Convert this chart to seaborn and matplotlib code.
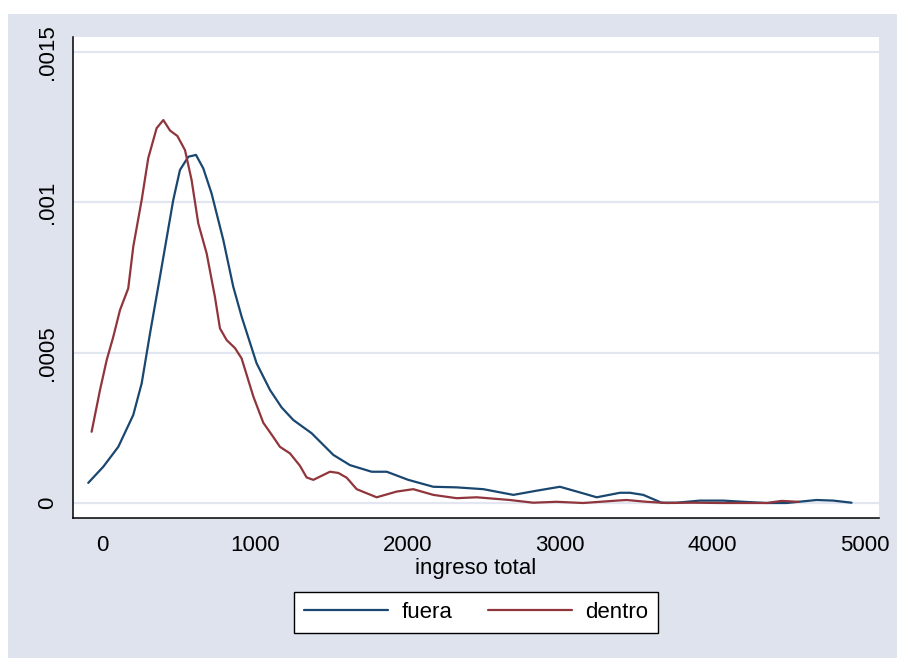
import numpy as np
import pandas as pd
import matplotlib
matplotlib.use("Agg")
import matplotlib.pyplot as plt
from matplotlib.patches import Rectangle
import seaborn as sns

# kernel density de ingreso total (densidad x 1e-6)
fuera_x = [-90, 9, 107, 205, 260, 315, 380, 467, 511, 566, 616, 664, 718, 795,
           860, 915, 1013, 1101, 1177, 1254, 1374, 1516, 1625, 1767, 1866, 2007,
           2171, 2324, 2499, 2696, 2849, 3001, 3154, 3242, 3394, 3460, 3547,
           3667, 3766, 3919, 4072, 4203, 4356, 4487, 4683, 4792, 4912]
fuera_y = [67, 121, 187, 293, 398, 565, 753, 1008, 1108, 1152, 1158, 1113, 1030,
           875, 720, 620, 465, 376, 318, 276, 232, 160, 126, 104, 104, 77, 54,
           52, 46, 27, 41, 54, 32, 19, 34, 34, 27, 1, 1, 8, 8, 4, 0, 0, 10, 8, 1]

dentro_x = [-68, -13, 31, 74, 118, 172, 205, 260, 303, 358, 402, 446, 494, 544,
            587, 631, 686, 740, 773, 817, 872, 915, 992, 1057, 1122, 1166, 1232,
            1297, 1341, 1385, 1494, 1549, 1604, 1669, 1800, 1931, 2040, 2171,
            2324, 2455, 2673, 2826, 2979, 3154, 3373, 3438, 3569, 3700, 3875,
            4050, 4225, 4356, 4454, 4563]
dentro_y = [237, 376, 476, 553, 642, 714, 853, 1008, 1147, 1247, 1274, 1239, 1221,
            1174, 1075, 930, 830, 686, 581, 542, 515, 481, 354, 267, 220, 187,
            165, 124, 85, 77, 104, 100, 84, 46, 19, 38, 46, 27, 16, 19, 10, 1, 4,
            0, 8, 10, 4, 0, 1, 0, 0, 0, 7, 4]

grupos = ["fuera", "dentro"]
colores = {"fuera": "#1A476F", "dentro": "#90353B"}

x_ticks = [0, 1000, 2000, 3000, 4000, 5000]
y_ticks = [0, 0.0005, 0.001, 0.0015]
y_labels = ["0", ".0005", ".001", ".0015"]

df = pd.concat([
    pd.DataFrame({"ingreso": fuera_x, "dens": np.array(fuera_y) * 1e-6, "grupo": "fuera"}),
    pd.DataFrame({"ingreso": dentro_x, "dens": np.array(dentro_y) * 1e-6, "grupo": "dentro"}),
])

sns.set_style("white")
plt.rcParams["font.family"] = ["Liberation Sans", "DejaVu Sans"]

bg = "#DFE3EE"
fig = plt.figure(figsize=(8.97, 6.58), dpi=100, facecolor="white")
fig.patches.append(Rectangle((8 / 897, 0), 1, 1 - 14 / 658, transform=fig.transFigure,
                             facecolor=bg, edgecolor="none", zorder=-10))
ax = fig.add_axes([73 / 897, 1 - 518 / 658, (879 - 73) / 897, (518 - 37) / 658])
ax.set_facecolor("white")

sns.lineplot(data=df, x="ingreso", y="dens", hue="grupo", hue_order=grupos,
             palette=colores, sort=False, estimator=None, linewidth=1.6, ax=ax)
ax.get_legend().remove()

ax.set_xlim(-190, 5092)
ax.set_ylim(-0.0000499, 0.0015503)
ax.set_xticks(x_ticks)
ax.set_xticklabels([str(t) for t in x_ticks])
ax.set_yticks(y_ticks)
ax.set_yticklabels(y_labels, rotation=90, va="center")
ax.yaxis.grid(True, color="#E2E6F0", linewidth=1.6, zorder=0)
ax.set_axisbelow(True)
ax.tick_params(axis="both", direction="out", length=5, width=1, color="black",
               labelsize=16, labelcolor="black")
ax.tick_params(axis="x", pad=7)
ax.tick_params(axis="y", pad=6)
for s in ["top", "right"]:
    ax.spines[s].set_visible(False)
for s in ["left", "bottom"]:
    ax.spines[s].set_color("black")
    ax.spines[s].set_linewidth(1.1)

ax.set_xlabel("ingreso total", fontsize=16, labelpad=2, color="black")
ax.set_ylabel("")

handles = [plt.Line2D([], [], color=colores[g], linewidth=1.6) for g in grupos]
leg = fig.legend(handles, grupos, loc="center", bbox_to_anchor=(476 / 897, 1 - 612 / 658),
                 ncol=2, fontsize=16, frameon=True, fancybox=False, edgecolor="black",
                 handlelength=3.8, handletextpad=0.6, columnspacing=1.6, borderpad=0.45,
                 labelcolor="black")
leg.get_frame().set_linewidth(1.0)
leg.get_frame().set_facecolor("white")
leg.get_frame().set_alpha(1)

fig.savefig("out.png", dpi=100, facecolor="white")
